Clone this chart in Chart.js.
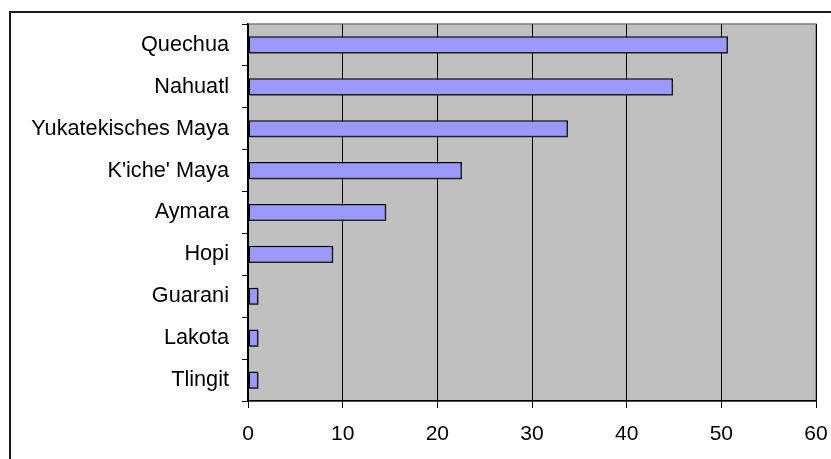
<!DOCTYPE html>
<html>
<head>
<meta charset="utf-8">
<script src="https://cdn.jsdelivr.net/npm/chart.js@4.4.1/dist/chart.umd.min.js"></script>
<style>
html,body{margin:0;padding:0;background:#fff;}
#wrap{width:831px;height:459px;position:relative;}
</style>
</head>
<body>
<div id="wrap"><canvas id="c" width="831" height="459"></canvas></div>
<script>
const categories = ["Quechua","Nahuatl","Yukatekisches Maya","K'iche' Maya","Aymara","Hopi","Guarani","Lakota","Tlingit"];
const values = [50.7, 44.9, 33.8, 22.6, 14.6, 9.0, 1.1, 1.1, 1.1];
const xTicks = [0, 10, 20, 30, 40, 50, 60];

const FONT = "'Liberation Sans', Arial, sans-serif";

const framePlugin = {
  id: 'frame',
  beforeDraw(chart) {
    const ctx = chart.ctx;
    const a = chart.chartArea;
    ctx.save();
    ctx.fillStyle = '#ffffff';
    ctx.fillRect(0, 0, chart.width, chart.height);
    ctx.strokeStyle = '#1a1a1a';
    ctx.lineWidth = 2;
    ctx.strokeRect(10, 12, chart.width + 20, chart.height + 20);
    ctx.fillStyle = '#c0c0c0';
    ctx.fillRect(a.left, a.top, a.right - a.left, a.bottom - a.top);
    ctx.strokeStyle = '#808080';
    ctx.lineWidth = 1.5;
    ctx.strokeRect(a.left, a.top, a.right - a.left, a.bottom - a.top);
    ctx.restore();
  },
  beforeDatasetDraw(chart) {
    const ctx = chart.ctx;
    ctx.save();
    ctx.shadowColor = 'rgba(40,40,40,0.75)';
    ctx.shadowOffsetX = 2;
    ctx.shadowOffsetY = 2;
    ctx.shadowBlur = 0;
  },
  afterDatasetDraw(chart) {
    chart.ctx.restore();
  }
};

new Chart(document.getElementById('c'), {
  type: 'bar',
  data: {
    labels: categories,
    datasets: [{
      data: values,
      backgroundColor: '#9999ff',
      borderColor: '#000000',
      borderWidth: 1.5,
      borderSkipped: false,
      barPercentage: 0.41,
      categoryPercentage: 1.0
    }]
  },
  options: {
    indexAxis: 'y',
    responsive: false,
    animation: false,
    devicePixelRatio: 1,
    layout: { padding: { left: 0, top: 24, right: 15, bottom: 0 } },
    plugins: { legend: { display: false }, tooltip: { enabled: false }, title: { display: false } },
    scales: {
      x: {
        type: 'linear',
        min: 0, max: 60,
        afterBuildTicks(scale) { scale.ticks = xTicks.map(v => ({ value: v })); },
        afterFit(scale) { scale.height = 58; scale.paddingLeft = 0; scale.paddingRight = 0; },
        grid: { color: '#000000', lineWidth: 1, tickLength: 7, drawTicks: true },
        border: { color: '#000000', width: 1.5 },
        ticks: { color: '#000000', font: { family: FONT, size: 21 }, padding: 14, maxRotation: 0 }
      },
      y: {
        type: 'category',
        afterFit(scale) { scale.width = 248; scale.paddingTop = 0; scale.paddingBottom = 0; },
        grid: { display: true, drawOnChartArea: false, color: '#000000', tickLength: 6, offset: true },
        border: { color: '#000000', width: 1.5 },
        ticks: { color: '#000000', font: { family: FONT, size: 21.7 }, padding: 13 }
      }
    }
  },
  plugins: [framePlugin]
});
</script>
</body>
</html>
